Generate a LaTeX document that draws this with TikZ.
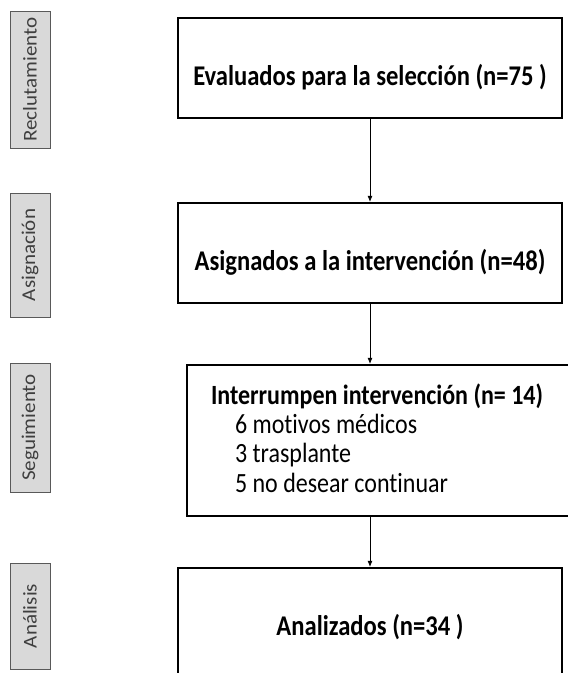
\documentclass[tikz,border=0pt]{standalone}
\usepackage{fontspec}
\setmainfont{Carlito}[Ligatures=CommonOff]
\usepackage{xcolor}
\usepackage{tikz}
\usetikzlibrary{
    positioning,
    arrows.meta
}
\definecolor{stagefill}{HTML}{D9D9D9}
\definecolor{stageline}{HTML}{595959}
\definecolor{stagetext}{HTML}{3F3F3F}
\newcommand{\tall}[1]{\scalebox{1}[1.16]{#1}}
\newcommand{\wide}[1]{\scalebox{1.08}[1]{#1}}
\tikzset{
  stage/.style = {
      draw=stageline,
      fill=stagefill,
      line width=0.9pt,
      rotate=90,
      minimum height=40pt,
      inner sep=0pt,
      text=stagetext,
      font=\fontsize{19.5}{22}\selectfont
  },
  flowbox/.style = {
      draw,
      line width=2.4pt,
      minimum width=384pt,
      inner sep=0pt,
      text height=67pt,
      font=\fontsize{24.6}{28}\selectfont\bfseries
  },
  flow/.style = {
      -{Latex[length=6pt,width=5pt]},
      line width=0.6pt
  }
}
\begin{document}
\begin{tikzpicture}[x=1pt,y=-1pt]
    \useasboundingbox (0,0) rectangle (568,673);
    % Stages
    \node[stage, minimum width=137pt] (recl) at (30,79.5) {\wide{Reclutamiento}};
    \node[stage, minimum width=124pt] (asig) at (30,255) {\wide{Asignación}};
    \node[stage, minimum width=129pt] (segu) at (30,427.5) {\wide{Seguimiento}};
    \node[stage, minimum width=106pt] (anal) at (30,616) {\wide{Análisis}};
    % Nodes
    \node[flowbox, text depth=33pt] (box1) at (370,68)
        {\tall{Evaluados para la selección (n=75 )}};
    \node[flowbox, text depth=33pt] (box2) at (370,253)
        {\tall{Asignados a la intervención (n=48)}};
    \node[flowbox, minimum width=393pt, inner xsep=24pt, text height=39pt,
          text depth=112pt, font=\fontsize{24}{25.4}\selectfont] (box3) at (383.5,440.5)
        {\makebox[345pt][l]{\tall{\begin{tabular}[t]{@{}l@{}}
            \textbf{Interrumpen intervención (n= 14)}\\
            \hspace*{24pt}6 motivos médicos\\
            \hspace*{24pt}3 trasplante\\
            \hspace*{24pt}5 no desear continuar
        \end{tabular}}}};
    \node[flowbox, text depth=53pt] (box4) at (370,628)
        {\tall{Analizados (n=34 )}};
    % Edges
    \path[draw, flow] (box1) -- (box2);
    \path[draw, flow] (box2) -- (box2 |- box3.north);
    \path[draw, flow] (box3.south -| box4) -- (box4);
\end{tikzpicture}
\end{document}
